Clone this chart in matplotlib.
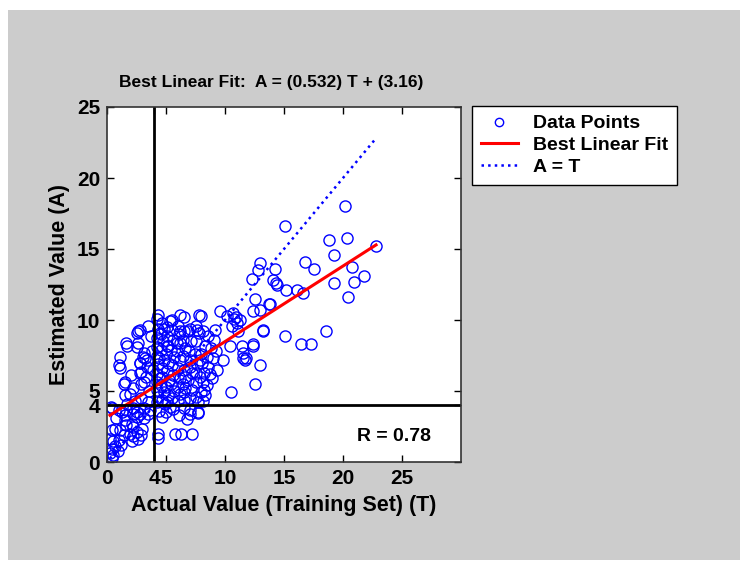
import matplotlib
matplotlib.use('Agg')
import matplotlib.pyplot as plt
from matplotlib.patches import Rectangle
import numpy as np

plt.rcParams['font.family'] = ['Liberation Sans', 'DejaVu Sans']
plt.rcParams['font.weight'] = 'bold'

# Точки (T, A)
upper_right = [
    (20.2, 18.05), (15.1, 16.6), (18.8, 15.6), (20.3, 15.8), (19.2, 14.6), (22.8, 15.2),
    (16.8, 14.1), (17.5, 13.6), (20.8, 13.7), (21.8, 13.1), (20.9, 12.7), (19.2, 12.6),
    (20.4, 11.6), (14.2, 13.6), (14.3, 12.6), (15.2, 12.1), (16.1, 12.1), (16.6, 11.9),
    (13.8, 11.1), (15.1, 8.9), (18.6, 9.2), (16.4, 8.3), (17.3, 8.3), (13.0, 14.0),
    (12.8, 13.5), (12.3, 12.9), (14.1, 12.8), (14.4, 12.5), (12.5, 11.5), (13.7, 11.1),
    (12.4, 10.6), (13.0, 10.7), (13.2, 9.2), (12.4, 8.3), (13.0, 6.8), (12.5, 5.5),
    (10.5, 4.95),
]
middle = [
    (10.7, 10.5), (10.8, 10.1), (11.0, 9.8), (9.6, 10.6), (11.1, 9.2), (10.4, 8.2),
    (11.4, 8.2), (11.55, 7.3), (11.7, 7.2), (12.35, 8.2), (13.25, 9.3), (9.85, 7.2),
    (9.0, 7.3), (8.45, 7.4), (7.9, 7.2), (8.6, 6.7), (7.9, 6.0), (8.45, 5.4), (8.2, 5.1),
    (8.3, 4.7), (9.15, 9.3), (11.5, 7.65), (11.8, 7.3), (10.9, 10.2), (11.3, 10.0),
    (10.2, 10.3), (10.6, 9.6),
]
left_upper = [
    (4.35, 10.35), (2.8, 9.3), (2.5, 9.05), (2.65, 9.25), (1.65, 8.35), (2.65, 8.35),
    (2.5, 8.1), (1.7, 8.2), (1.1, 7.4), (1.0, 6.8), (1.1, 6.6), (3.1, 7.65), (3.35, 7.2),
    (2.8, 6.95), (2.9, 6.35), (1.5, 5.65), (3.1, 5.65), (2.8, 7.0), (3.05, 7.4), (3.2, 7.3),
    (2.8, 6.3), (3.35, 6.7), (2.9, 5.5), (1.4, 5.5), (1.5, 4.7), (1.95, 4.8), (2.9, 4.5),
    (3.5, 4.25), (3.6, 5.0), (3.3, 6.0), (2.2, 5.2), (3.7, 8.9), (3.5, 9.6), (2.0, 6.1),
    (2.4, 4.3), (3.8, 7.8), (3.9, 6.5),
]
left_lower = [
    (0.4, 3.8), (1.0, 3.65), (1.25, 3.55), (2.2, 3.8), (2.5, 3.55), (3.1, 3.8), (3.65, 3.65),
    (1.7, 4.1), (0.4, 2.25), (0.7, 2.35), (0.25, 1.65), (0.55, 1.45), (0.4, 0.95),
    (0.25, 0.6), (0.55, 0.5), (0.4, 0.26), (1.1, 2.25), (1.4, 1.9), (1.0, 1.55), (1.5, 2.95),
    (1.65, 2.6), (2.1, 2.7), (2.2, 2.5), (1.95, 2.0), (2.2, 1.8), (2.5, 2.1), (2.65, 1.65),
    (2.1, 1.45), (2.9, 1.9), (1.65, 3.65), (2.2, 3.4), (1.5, 3.3), (2.5, 3.2), (3.1, 3.1),
    (2.8, 3.4), (3.5, 3.4), (0.7, 1.1), (0.9, 0.8), (1.2, 1.2), (0.3, 3.9), (0.8, 3.1),
    (3.0, 2.3),
]
right_lower = [
    (4.35, 2.0), (4.3, 1.7), (5.75, 2.0), (6.3, 2.0), (7.2, 2.0), (7.0, 3.4), (7.75, 3.45),
    (7.7, 3.55), (7.0, 3.65), (6.5, 3.8), (4.4, 3.6), (5.0, 3.5), (5.6, 3.7), (6.1, 3.3),
    (4.7, 3.2), (5.3, 3.9), (6.8, 3.0),
]
cluster = [
    (4.2, 10.1), (4.3, 9.4), (4.2, 8.7), (4.25, 8.1), (4.2, 7.5), (4.3, 6.9), (4.2, 6.2),
    (4.25, 5.6), (4.2, 5.1), (4.3, 4.6), (4.2, 4.2),
    (4.7, 9.8), (4.6, 9.0), (4.75, 8.5), (4.6, 7.9), (4.8, 7.2), (4.65, 6.6), (4.7, 6.0),
    (4.6, 5.4), (4.8, 4.9), (4.65, 4.4),
    (5.1, 9.5), (5.05, 8.9), (5.2, 8.2), (5.0, 7.6), (5.15, 7.0), (5.1, 6.4), (5.25, 5.8),
    (5.0, 5.3), (5.2, 4.7), (5.05, 4.25),
    (5.5, 10.0), (5.55, 9.3), (5.6, 8.6), (5.45, 7.9), (5.65, 7.4), (5.5, 6.8), (5.6, 6.1),
    (5.45, 5.5), (5.7, 5.0), (5.55, 4.5),
    (6.0, 9.6), (6.1, 9.0), (6.2, 8.4), (5.95, 7.8), (6.15, 7.2), (6.0, 6.6), (6.2, 5.9),
    (6.05, 5.3), (6.2, 4.8), (6.0, 4.3),
    (6.5, 10.2), (6.55, 9.2), (6.4, 8.6), (6.6, 8.0), (6.45, 7.5), (6.5, 6.5), (6.6, 6.0),
    (6.4, 5.5), (6.55, 4.9), (6.5, 4.4),
    (7.0, 9.4), (7.1, 8.5), (6.95, 7.8), (7.05, 7.2), (7.0, 6.7), (7.2, 6.25), (6.9, 5.8),
    (7.2, 5.1), (7.05, 4.5),
    (7.5, 9.6), (7.65, 9.3), (7.8, 9.05), (7.55, 8.5), (7.45, 7.6), (7.6, 6.9), (7.5, 6.3),
    (7.55, 5.6), (7.5, 4.6), (7.7, 4.2),
    (8.0, 10.3), (8.1, 9.2), (8.3, 8.2), (8.0, 7.6), (8.05, 7.0), (8.2, 6.3), (8.1, 5.6),
    (8.0, 4.9), (8.1, 4.3),
    (8.6, 8.9), (8.8, 8.0), (8.7, 6.2), (9.1, 8.6), (8.9, 5.9), (9.3, 6.5), (9.2, 7.8),
    (7.8, 10.35), (6.2, 10.35), (6.9, 9.25), (6.2, 9.25), (5.9, 8.4), (5.05, 8.2),
    (4.8, 9.4), (4.5, 9.1), (6.6, 5.2), (5.3, 9.9), (4.4, 7.3), (4.45, 5.9), (4.9, 4.1),
]

points = upper_right + middle + left_upper + left_lower + right_lower + cluster
T = np.array([p[0] for p in points])
A = np.array([p[1] for p in points])

slope = 0.532
intercept = 3.16
r_value = 0.78
threshold = 4

fig = plt.figure(figsize=(7.48, 5.69), dpi=100)
fig.patch.set_facecolor('white')
fig.patches.append(Rectangle((8 / 748, 1 - 560 / 569), 732 / 748, 550 / 569,
                             transform=fig.transFigure, facecolor='#cccccc',
                             edgecolor='none', zorder=-10))

ax = fig.add_axes([107 / 748, 107 / 569, 354 / 748, 355 / 569])
ax.set_facecolor('white')

t_line = np.array([T.min(), T.max()])
ax.plot(T, A, 'o', mfc='none', mec='blue', ms=8, mew=1.0, label='Data Points')
ax.plot(t_line, slope * t_line + intercept, '-', color='red', lw=2.2, label='Best Linear Fit')
ax.plot(t_line, t_line, ':', color='blue', lw=1.8, label='A = T')
ax.axvline(threshold, color='black', lw=2)
ax.axhline(threshold, color='black', lw=2)

ax.set_xlim(0, 30)
ax.set_ylim(0, 25)
ax.set_xticks([0, 4, 5, 10, 15, 20, 25])
ax.set_yticks([0, 4, 5, 10, 15, 20, 25])
ax.tick_params(direction='in', length=5, width=1, top=True, right=True,
               labelsize=15, pad=5)
for lab in ax.get_xticklabels() + ax.get_yticklabels():
    lab.set_fontweight('bold')
for s in ax.spines.values():
    s.set_linewidth(1.2)
    s.set_color('#333333')

ax.set_xlabel('Actual Value (Training Set) (T)', fontsize=15.5, fontweight='bold', labelpad=5)
ax.set_ylabel('Estimated Value (A)', fontsize=15.5, fontweight='bold', labelpad=5)
ax.text(21.2, 1.8, 'R = %.2f' % r_value, fontsize=14, fontweight='bold', va='center')

fig.text(271 / 748, 1 - 82 / 569, 'Best Linear Fit:  A = (%.3f) T + (%.2f)' % (slope, intercept),
         ha='center', va='center', fontsize=12.5, fontweight='bold')

leg = ax.legend(loc='upper left', bbox_to_anchor=(472 / 748, 1 - 106 / 569),
                bbox_transform=fig.transFigure, fancybox=False, borderaxespad=0,
                edgecolor='black', framealpha=1, borderpad=0.45, labelspacing=0.22,
                handlelength=1.9, handletextpad=0.8, prop={'weight': 'bold', 'size': 14})
leg.get_frame().set_linewidth(1.0)
leg.legend_handles[0].set_markersize(6)

fig.savefig('out.png', dpi=100, facecolor=fig.get_facecolor())
